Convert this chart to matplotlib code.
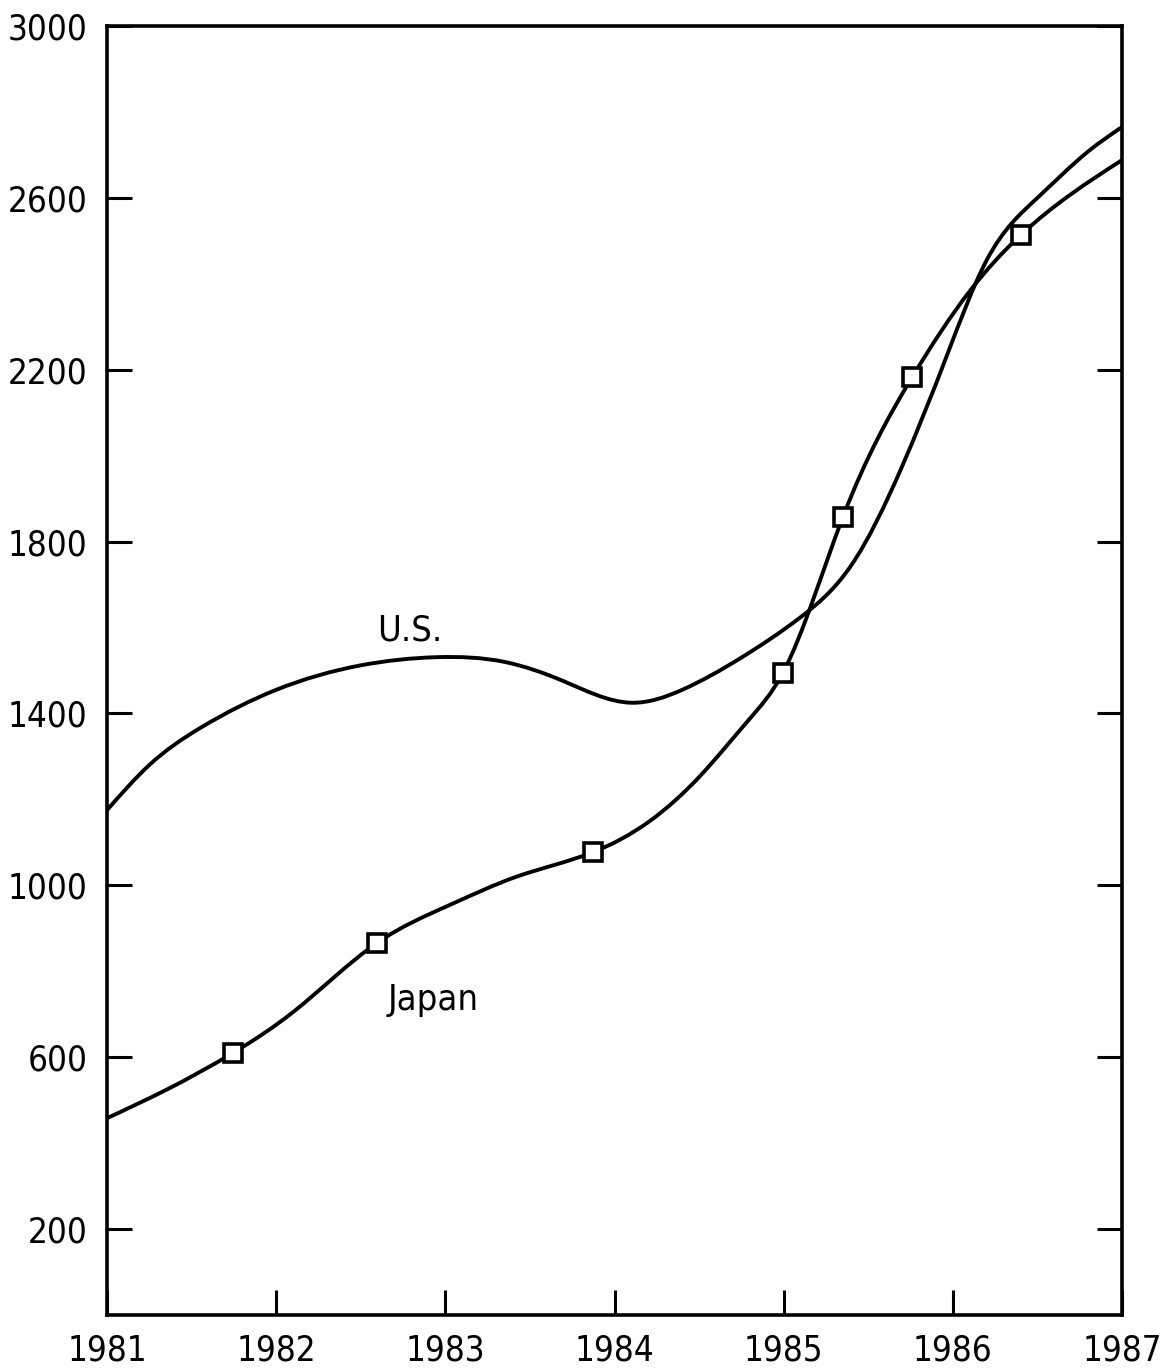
import matplotlib
matplotlib.use('Agg')
import matplotlib.pyplot as plt
from matplotlib.path import Path
from matplotlib.patches import PathPatch
import numpy as np

plt.rcParams['font.family'] = ['DejaVu Sans']
plt.rcParams['font.stretch'] = 'condensed'

# ---- data ----
us_years = [1981.0, 1981.25, 1981.55, 1982.0, 1982.5, 1982.95, 1983.35, 1983.7,
            1984.1, 1984.4, 1984.75, 1985.1, 1985.4, 1985.7, 1985.96, 1986.2,
            1986.5, 1986.8, 1987.0]
us_values = [1175, 1280, 1366, 1455, 1512, 1531, 1520, 1475,
             1425, 1455, 1530, 1624, 1745, 1975, 2228, 2455,
             2600, 2708, 2765]

japan_years = [1981.0, 1981.35, 1981.745, 1982.1, 1982.596, 1983.03, 1983.42, 1983.872,
               1984.21, 1984.5, 1984.8, 1984.995, 1985.35, 1985.76, 1986.1,
               1986.40, 1987.0]
japan_values = [458, 524, 610, 705, 866, 955, 1020, 1077,
                1150, 1252, 1388, 1494, 1857, 2183, 2383,
                2513, 2688]

japan_marker_years = [1981.745, 1982.596, 1983.872, 1984.995, 1985.35, 1985.76, 1986.40]
japan_marker_values = [610, 866, 1077, 1494, 1857, 2183, 2513]

x_ticks = [1981, 1982, 1983, 1984, 1985, 1986, 1987]
y_ticks = [200, 600, 1000, 1400, 1800, 2200, 2600, 3000]

series_labels = ["U.S.", "Japan"]


def spline_path(xs, ys):
    """Natural cubic spline through the points, drawn as cubic Bezier segments."""
    x = np.asarray(xs, float)
    y = np.asarray(ys, float)
    n = len(x)
    h = np.diff(x)
    A = np.zeros((n, n))
    b = np.zeros(n)
    A[0, 0] = 1.0
    A[-1, -1] = 1.0
    for i in range(1, n - 1):
        A[i, i - 1] = h[i - 1]
        A[i, i] = 2 * (h[i - 1] + h[i])
        A[i, i + 1] = h[i]
        b[i] = 6 * ((y[i + 1] - y[i]) / h[i] - (y[i] - y[i - 1]) / h[i - 1])
    M = np.linalg.solve(A, b)
    m = np.zeros(n)
    for i in range(n - 1):
        m[i] = (y[i + 1] - y[i]) / h[i] - h[i] * (2 * M[i] + M[i + 1]) / 6
    m[-1] = (y[-1] - y[-2]) / h[-1] + h[-1] * (M[-2] + 2 * M[-1]) / 6
    verts = [(x[0], y[0])]
    codes = [Path.MOVETO]
    for k in range(n - 1):
        verts += [(x[k] + h[k] / 3, y[k] + m[k] * h[k] / 3),
                  (x[k + 1] - h[k] / 3, y[k + 1] - m[k + 1] * h[k] / 3),
                  (x[k + 1], y[k + 1])]
        codes += [Path.CURVE4] * 3
    return Path(verts, codes)


fig = plt.figure(figsize=(11.66, 13.7), dpi=100)
ax = fig.add_axes([107 / 1166, 1 - 1315 / 1370, (1122 - 107) / 1166, (1315 - 26) / 1370])

for xs, ys in [(us_years, us_values), (japan_years, japan_values)]:
    patch = PathPatch(spline_path(xs, ys), facecolor='none', edgecolor='black',
                      lw=2.8, capstyle='round', joinstyle='round', zorder=2)
    ax.add_patch(patch)

ax.plot(japan_marker_years, japan_marker_values, linestyle='none', marker='s',
        ms=13, mfc='white', mec='black', mew=2.6, zorder=3)

ax.text(1982.79, 1594, series_labels[0], fontsize=26, ha='center', va='center')
ax.text(1982.93, 733, series_labels[1], fontsize=26, ha='center', va='center')

ax.set_xlim(1981, 1987)
ax.set_ylim(0, 3000)
ax.set_xticks(x_ticks)
ax.set_xticklabels([str(v) for v in x_ticks])
ax.set_yticks(y_ticks)
ax.set_yticklabels([str(v) for v in y_ticks])

ax.tick_params(axis='both', direction='in', length=18, width=2.2, labelsize=25,
               colors='black')
ax.tick_params(axis='x', top=False, bottom=True, pad=13)
ax.tick_params(axis='y', right=True, left=True, pad=14)

for s in ax.spines.values():
    s.set_linewidth(2.6)
    s.set_color('black')

fig.savefig('out.png', dpi=100, facecolor='white')
